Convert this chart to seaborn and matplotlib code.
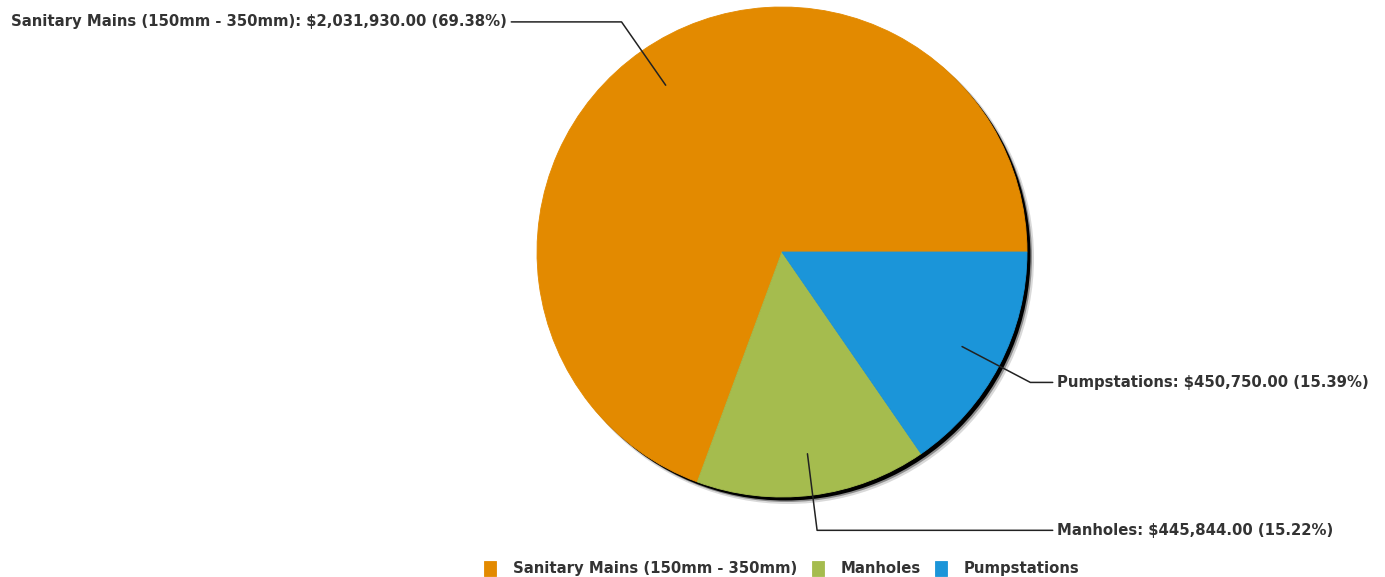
import numpy as np
import seaborn as sns
import matplotlib.pyplot as plt
from matplotlib.patches import Circle

# datos
categorias = ["Sanitary Mains (150mm - 350mm)", "Manholes", "Pumpstations"]
montos = [2031930.00, 445844.00, 450750.00]
colores = ["#E38A00", "#A5BC4E", "#1B95D9"]

sns.set_theme(style="white")
plt.rcParams['font.family'] = ['DejaVu Sans']

W, H = 1385, 577
fig = plt.figure(figsize=(W / 100, H / 100), dpi=100)
ax = fig.add_axes([0, 0, 1, 1])

cx, cy, r = 782, H - 252, 245

# sombra del pie (difuminada a mano)
ax.add_patch(Circle((cx + 6, cy - 6), r + 1, color="black", alpha=0.15, zorder=0, lw=0))
ax.add_patch(Circle((cx + 5, cy - 5), r, color="black", alpha=0.35, zorder=0, lw=0))
ax.add_patch(Circle((cx + 3.5, cy - 3.5), r, color="black", zorder=0, lw=0))

wedges, _ = ax.pie(montos, colors=colores, startangle=0, center=(cx, cy), radius=r,
                   frame=True)
for w in wedges:
    w.set_edgecolor(w.get_facecolor())
    w.set_linewidth(0.6)

total = sum(montos)
color_txt = "#333333"
fs = 10.7
for w, nombre, v in zip(wedges, categorias, montos):
    ang = np.deg2rad((w.theta1 + w.theta2) / 2)
    x0, y0 = cx + 0.83 * r * np.cos(ang), cy + 0.83 * r * np.sin(ang)
    x1, y1 = cx + 1.145 * r * np.cos(ang), cy + 1.145 * r * np.sin(ang)
    lado = 1 if np.cos(ang) > 0 else -1
    x2 = cx + lado * 1.105 * r
    ax.plot([x0, x1, x2], [y0, y1, y1], color="#222222", lw=1.1, zorder=3)
    txt = f"{nombre}: ${v:,.2f} ({v / total * 100:.2f}%)"
    ax.text(x2 + lado * 4, y1, txt, ha="left" if lado > 0 else "right", va="center",
            fontsize=fs, fontweight="bold", color=color_txt)

ax.set_xlim(0, W)
ax.set_ylim(0, H)
ax.set_aspect("auto")
ax.axis("off")

leg = ax.legend(wedges, categorias, loc="lower center", bbox_to_anchor=(cx / W, -0.022),
                ncol=3, frameon=False, handlelength=0.8, handleheight=1.2,
                handletextpad=1.15, columnspacing=0.95, prop=dict(size=fs, weight="bold"))
for t in leg.get_texts():
    t.set_color(color_txt)

fig.savefig("out.png", dpi=100)
